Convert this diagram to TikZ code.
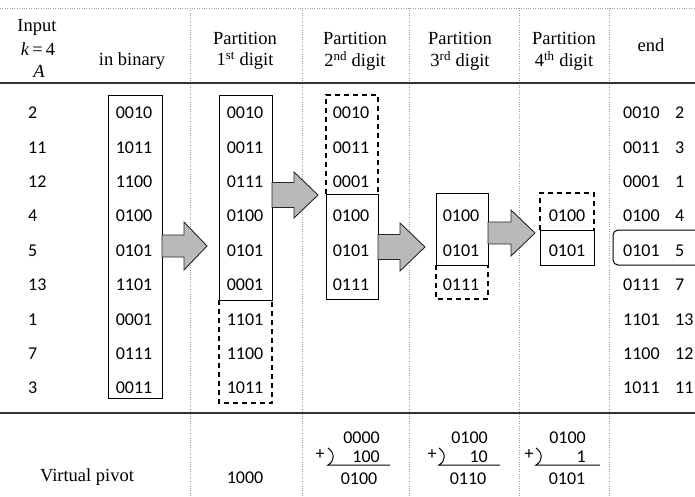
\documentclass[tikz,border=0pt]{standalone}
\usepackage{fontspec}
\setmainfont{Liberation Serif}
\newfontfamily\numfont{Carlito}
\newcommand\blockarr[6]{% tail x, centre y, head-start x, tip x, half body, half head
  \filldraw[blockarrow] (#1,#2-#5) -- (#3,#2-#5) -- (#3,#2-#6) -- (#4,#2)
    -- (#3,#2+#6) -- (#3,#2+#5) -- (#1,#2+#5) -- cycle;}
\begin{document}
\begin{tikzpicture}[x=1pt,y=-1pt,
  num/.style={font=\numfont\fontsize{18}{20}\selectfont, inner sep=0pt},
  hdr/.style={font=\fontsize{18.5}{21}\selectfont, inner sep=0pt},
  sepline/.style={gray!75, line width=0.6pt, dash pattern=on 1pt off 1.4pt},
  rule/.style={line width=1.3pt, black!80},
  solidbox/.style={line width=1pt},
  dashbox/.style={line width=1.1pt, dash pattern=on 5pt off 4pt},
  blockarrow/.style={draw=black!85, line width=0.9pt, fill=gray!55},
  sumline/.style={line width=1pt}]
\useasboundingbox (0,0) rectangle (695,497);

% table frame: top dotted edge, rules and column separators
\draw[sepline] (0,8) -- (695,8);
\foreach \x in {190,302,409,519,609}
  \draw[sepline] (\x,8) -- (\x,497);
\draw[rule] (0,83) -- (695,83);
\draw[rule] (0,413) -- (695,413);

% column headings
\node[hdr] (hin1) at (37,27) {Input};
\node[hdr] (hin2) at (38,49) {\textit{k}\,=\,4};
\node[hdr] (hin3) at (39,71) {\textit{A}};
\node[hdr] (hbin) at (132,61) {in binary};
\node[hdr] (hp1a) at (245,38) {Partition};
\node[hdr] (hp1b) at (245,61) {1\textsuperscript{st} digit};
\node[hdr] (hp2a) at (355,38) {Partition};
\node[hdr] (hp2b) at (355,61) {2\textsuperscript{nd} digit};
\node[hdr] (hp3a) at (460,38) {Partition};
\node[hdr] (hp3b) at (460,61) {3\textsuperscript{rd} digit};
\node[hdr] (hp4a) at (564,38) {Partition};
\node[hdr] (hp4b) at (564,61) {4\textsuperscript{th} digit};
\node[hdr] (hend) at (651,45) {end};

% input values and their binary forms
\foreach \v [count=\i from 0] in {2,11,12,4,5,13,1,7,3}
  \node[num,anchor=west] (in\i) at (28,{113+34.4*\i}) {\v};
\foreach \v [count=\i from 0] in {0010,1011,1100,0100,0101,1101,0001,0111,0011}
  \node[num] (bin\i) at (134,{113+34.4*\i}) {\v};
\draw[solidbox] (108,96) rectangle (162,398);

% partition on the 1st digit
\foreach \v [count=\i from 0] in {0010,0011,0111,0100,0101,0001,1101,1100,1011}
  \node[num] (pa\i) at (245,{113+34.4*\i}) {\v};
\draw[solidbox] (219,96) rectangle (272,300);
\draw[dashbox] (219,300) -- (219,403) -- (272,403) -- (272,300);

% partition on the 2nd digit
\foreach \v [count=\i from 0] in {0010,0011,0001,0100,0101,0111}
  \node[num] (pb\i) at (351,{113+34.4*\i}) {\v};
\draw[dashbox] (326,194) -- (326,95) -- (378,95) -- (378,194);
\draw[solidbox] (326,194) rectangle (378,299);

% partition on the 3rd digit
\foreach \v [count=\i from 3] in {0100,0101,0111}
  \node[num] (pc\i) at (461,{113+34.4*\i}) {\v};
\draw[solidbox] (436,193) rectangle (488,265);
\draw[dashbox] (436,265) -- (436,299) -- (488,299) -- (488,265);

% partition on the 4th digit
\foreach \v [count=\i from 3] in {0100,0101}
  \node[num] (pd\i) at (567,{113+34.4*\i}) {\v};
\draw[dashbox] (540,230) -- (540,193) -- (594,193) -- (594,230);
\draw[solidbox] (540,230) rectangle (594,265);

% final order
\foreach \v/\n [count=\i from 0] in {0010/2,0011/3,0001/1,0100/4,0101/5,0111/7,1101/13,1100/12,1011/11} {
  \node[num,anchor=west] (eb\i) at (623,{113+34.4*\i}) {\v};
  \node[num,anchor=west] (en\i) at (675,{113+34.4*\i}) {\n};
}
\draw[solidbox, rounded corners=5pt] (720,230) -- (613,230) -- (613,265) -- (720,265);

% block arrows between the stages
\blockarr{162}{246}{184}{207}{11}{24}
\blockarr{272}{195}{294}{318}{12.5}{23}
\blockarr{378}{247}{400}{425}{12.5}{24}
\blockarr{488}{233}{511}{535}{11}{23}

% virtual pivot row
\node[hdr] (vp) at (87,477) {Virtual pivot};
\node[num] (vp1) at (245,478) {1000};

\node[num,anchor=east] (s2a) at (380,438) {0000};
\node[num,anchor=east] (s2b) at (380,457) {100};
\node[num] (s2p) at (320,455) {+};
\draw[sumline] (328,448) .. controls (335,453) and (335,461) .. (328,465) -- (390,465);
\node[num] (s2r) at (359,479) {0100};

\node[num,anchor=east] (s3a) at (488,438) {0100};
\node[num,anchor=east] (s3b) at (488,457) {10};
\node[num] (s3p) at (432,455) {+};
\draw[sumline] (439,448) .. controls (446,453) and (446,461) .. (439,465) -- (500,465);
\node[num] (s3r) at (468,479) {0110};

\node[num,anchor=east] (s4a) at (586,438) {0100};
\node[num,anchor=east] (s4b) at (586,457) {1};
\node[num] (s4p) at (529,455) {+};
\draw[sumline] (536,448) .. controls (543,453) and (543,461) .. (536,465) -- (600,465);
\node[num] (s4r) at (567,479) {0101};
\end{tikzpicture}
\end{document}
